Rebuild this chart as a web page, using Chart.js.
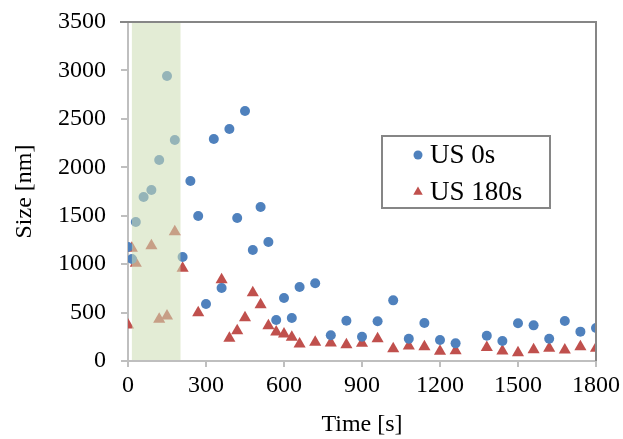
<!DOCTYPE html>
<html>
<head>
<meta charset="utf-8">
<script src="https://cdn.jsdelivr.net/npm/chart.js@4.4.1/dist/chart.umd.min.js"></script>
<style>
  html, body { margin: 0; padding: 0; background: #ffffff; }
  #wrap { width: 623px; height: 439px; }
</style>
</head>
<body>
<div id="wrap"><canvas id="c" width="623" height="439"></canvas></div>
<script>
// ---- data ----
const seriesNames = ['US 0s', 'US 180s'];
const times0 = [0,15,30,60,90,120,150,180,210,240,270,300,330,360,390,420,450,480,510,540,570,600,630,660,720,780,840,900,960,1020,1080,1140,1200,1260,1380,1440,1500,1560,1620,1680,1740,1800];
const size0  = [1177,1053,1435,1693,1765,2075,2942,2282,1074,1858,1497,588,2292,754,2395,1476,2581,1146,1590,1229,423,650,444,764,802,265,416,251,410,626,230,392,217,182,261,206,389,368,230,413,303,341];
const times180 = [0,15,30,90,120,150,180,210,270,360,390,420,450,480,510,540,570,600,630,660,720,780,840,900,960,1020,1080,1140,1200,1260,1380,1440,1500,1560,1620,1680,1740,1800];
const size180  = [372,1163,1009,1190,430,465,1335,957,499,840,234,313,447,705,581,365,299,279,245,176,193,186,168,183,230,127,155,148,100,106,140,103,86,117,131,114,148,131];
const xTicks = [0,300,600,900,1200,1500,1800];
const yTicks = [0,500,1000,1500,2000,2500,3000,3500];
const band = [15, 202]; // shaded sonication period [s]
const xTitle = 'Time [s]';
const yTitle = 'Size [nm]';

const FONT = "'Liberation Serif', 'Times New Roman', serif";
const BLUE = '#4f81bd';
const RED = '#c0504d';

const toXY = (xs, ys) => xs.map((x, i) => ({ x: x, y: ys[i] }));

const bandPlugin = {
  id: 'band',
  afterDatasetsDraw(chart) {
    const { ctx, chartArea, scales } = chart;
    const x1 = scales.x.getPixelForValue(band[0]);
    const x2 = scales.x.getPixelForValue(band[1]);
    ctx.save();
    ctx.fillStyle = 'rgba(205,222,180,0.56)';
    ctx.fillRect(x1, chartArea.top + 1, x2 - x1, chartArea.bottom - chartArea.top - 2);
    ctx.restore();
  }
};

const framePlugin = {
  id: 'frame',
  afterDraw(chart) {
    const { ctx, chartArea } = chart;
    ctx.save();
    ctx.strokeStyle = '#868686';
    ctx.lineWidth = 2;
    ctx.beginPath();
    ctx.moveTo(chartArea.left - 8, chartArea.top);
    ctx.lineTo(chartArea.right, chartArea.top);
    ctx.lineTo(chartArea.right, chartArea.bottom);
    ctx.stroke();
    ctx.restore();
  }
};

const legendPlugin = {
  id: 'boxLegend',
  afterDraw(chart) {
    const { ctx } = chart;
    const bx = 382, by = 136, bw = 168, bh = 72;
    ctx.save();
    ctx.fillStyle = '#ffffff';
    ctx.fillRect(bx, by, bw, bh);
    ctx.strokeStyle = '#868686';
    ctx.lineWidth = 2;
    ctx.strokeRect(bx, by, bw, bh);
    ctx.font = '27px ' + FONT;
    ctx.textBaseline = 'middle';
    chart.data.datasets.forEach((ds, i) => {
      const cy = by + 19 + i * 37;
      const cx = bx + 36;
      ctx.fillStyle = ds.backgroundColor;
      ctx.beginPath();
      if (ds.pointStyle === 'triangle') {
        const r = 5.5;
        ctx.moveTo(cx, cy - r);
        ctx.lineTo(cx + r * 0.866, cy + r * 0.5);
        ctx.lineTo(cx - r * 0.866, cy + r * 0.5);
        ctx.closePath();
      } else {
        ctx.arc(cx, cy, 4.5, 0, Math.PI * 2);
      }
      ctx.fill();
      ctx.fillStyle = '#000000';
      ctx.fillText(ds.label, cx + 12, cy + 1);
    });
    ctx.restore();
  }
};

new Chart(document.getElementById('c'), {
  type: 'scatter',
  data: {
    datasets: [
      { label: seriesNames[0], data: toXY(times0, size0), backgroundColor: BLUE, borderColor: BLUE,
        pointStyle: 'circle', pointRadius: 5, pointBorderWidth: 0 },
      { label: seriesNames[1], data: toXY(times180, size180), backgroundColor: RED, borderColor: RED,
        pointStyle: 'triangle', pointRadius: 7, pointBorderWidth: 0 }
    ]
  },
  options: {
    responsive: false,
    animation: false,
    devicePixelRatio: 1,
    layout: { padding: { top: 22, right: 27, left: 0, bottom: 0 } },
    plugins: { legend: { display: false }, tooltip: { enabled: false } },
    scales: {
      x: {
        type: 'linear', min: 0, max: 1800,
        afterBuildTicks(s) { s.ticks = xTicks.map(v => ({ value: v })); },
        afterFit(s) { s.height = 78; s.paddingLeft = 0; s.paddingRight = 0; },
        grid: { display: true, drawOnChartArea: false, drawTicks: true, tickLength: 6, color: '#bfbfbf', lineWidth: 2 },
        border: { display: true, color: '#bfbfbf', width: 2 },
        ticks: { color: '#000', font: { family: FONT, size: 24 }, padding: 4, maxRotation: 0, callback: v => String(v) },
        title: { display: true, text: xTitle, color: '#000', font: { family: FONT, size: 24 }, padding: { top: 0, bottom: 0 } }
      },
      y: {
        type: 'linear', min: 0, max: 3500,
        afterBuildTicks(s) { s.ticks = yTicks.map(v => ({ value: v })); },
        afterFit(s) { s.width = 128; s.paddingTop = 0; s.paddingBottom = 0; },
        grid: { display: true, drawOnChartArea: false, drawTicks: true, tickLength: 7, color: '#bfbfbf', lineWidth: 2 },
        border: { display: true, color: '#bfbfbf', width: 2 },
        ticks: { color: '#000', font: { family: FONT, size: 24 }, padding: 15, callback: v => String(v) },
        title: { display: true, text: yTitle, color: '#000', font: { family: FONT, size: 24 }, padding: { top: 10, bottom: 0 } }
      }
    }
  },
  plugins: [bandPlugin, framePlugin, legendPlugin]
});
</script>
</body>
</html>
